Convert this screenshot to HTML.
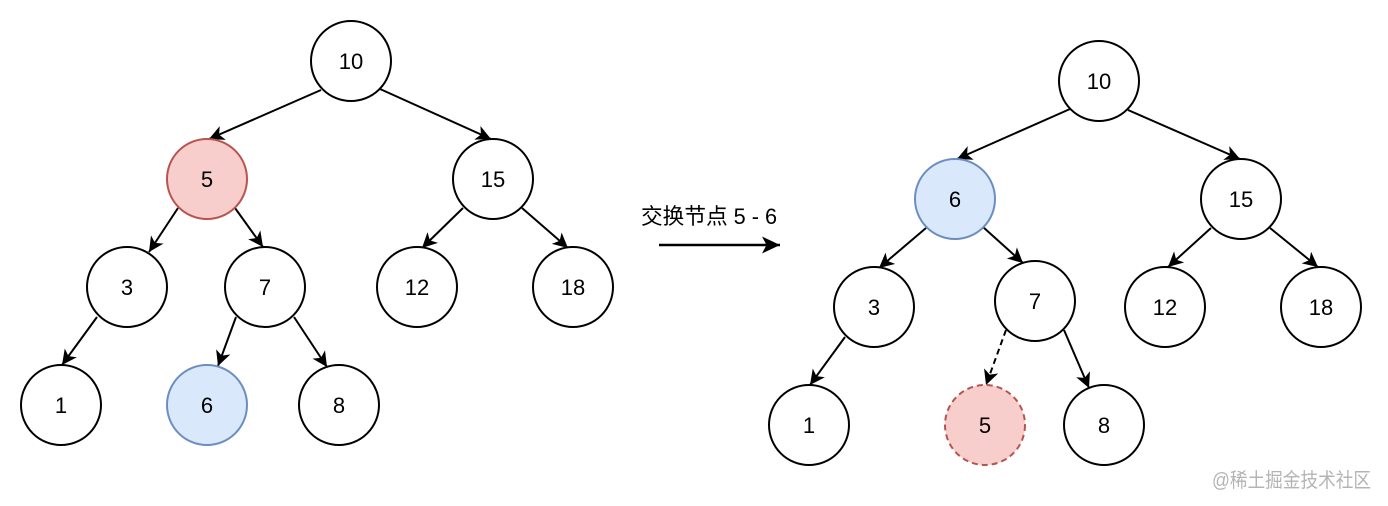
<!DOCTYPE html>
<html>
<head>
<meta charset="utf-8">
<style>
  html, body { margin:0; padding:0; background:#ffffff; }
  body { width:1388px; height:506px; overflow:hidden; }
  svg { display:block; }
  text { font-family: "Liberation Sans", "Noto Sans CJK SC", sans-serif; }
</style>
</head>
<body>
<svg width="1388" height="506" viewBox="0 0 1388 506" xmlns="http://www.w3.org/2000/svg">
  <defs>
    <marker id="ah" markerUnits="userSpaceOnUse" markerWidth="16" markerHeight="16" refX="15" refY="7.5" orient="auto">
      <path d="M0,0 L15,7.5 L0,15 L4,7.5 Z" fill="#000"/>
    </marker>
    <marker id="ahBig" markerUnits="userSpaceOnUse" markerWidth="20" markerHeight="20" refX="18" refY="8.5" orient="auto">
      <path d="M0,0 L18,8.5 L0,17 L4.5,8.5 Z" fill="#000"/>
    </marker>
  </defs>
  <rect width="1388" height="506" fill="#fff"/>

  <!-- Left tree edges -->
  <g stroke="#000" stroke-width="2" fill="none">
    <line x1="321" y1="90" x2="209" y2="139" marker-end="url(#ah)"/>
    <line x1="380" y1="89" x2="491" y2="139" marker-end="url(#ah)"/>
    <line x1="178" y1="208" x2="149" y2="252" marker-end="url(#ah)"/>
    <line x1="235" y1="208" x2="263" y2="247" marker-end="url(#ah)"/>
    <line x1="463" y1="208" x2="422" y2="248" marker-end="url(#ah)"/>
    <line x1="522" y1="208" x2="568" y2="248" marker-end="url(#ah)"/>
    <line x1="97" y1="317" x2="62" y2="365" marker-end="url(#ah)"/>
    <line x1="236" y1="317" x2="218" y2="366" marker-end="url(#ah)"/>
    <line x1="294" y1="317" x2="327" y2="367" marker-end="url(#ah)"/>
  </g>

  <!-- Left tree nodes -->
  <g stroke-width="2">
    <circle cx="351" cy="61" r="40" fill="#fff" stroke="#000"/>
    <circle cx="207" cy="179" r="40" fill="#f8cecc" stroke="#b85450"/>
    <circle cx="493" cy="179" r="40" fill="#fff" stroke="#000"/>
    <circle cx="127" cy="287" r="40" fill="#fff" stroke="#000"/>
    <circle cx="265" cy="287" r="40" fill="#fff" stroke="#000"/>
    <circle cx="417" cy="287" r="40" fill="#fff" stroke="#000"/>
    <circle cx="573" cy="287" r="40" fill="#fff" stroke="#000"/>
    <circle cx="61" cy="405" r="40" fill="#fff" stroke="#000"/>
    <circle cx="207" cy="405" r="40" fill="#dae8fc" stroke="#6c8ebf"/>
    <circle cx="339" cy="405" r="40" fill="#fff" stroke="#000"/>
  </g>
  <g font-size="22" fill="#000" text-anchor="middle">
    <text x="351" y="69">10</text>
    <text x="207" y="187">5</text>
    <text x="493" y="187">15</text>
    <text x="127" y="295">3</text>
    <text x="265" y="295">7</text>
    <text x="417" y="295">12</text>
    <text x="573" y="295">18</text>
    <text x="61" y="413">1</text>
    <text x="207" y="413">6</text>
    <text x="339" y="413">8</text>
  </g>

  <!-- Middle label + arrow -->
  <text x="641" y="224" font-size="22" fill="#000" textLength="136" lengthAdjust="spacingAndGlyphs">交换节点 5 - 6</text>
  <line x1="659" y1="245" x2="780" y2="245" stroke="#000" stroke-width="2.5" marker-end="url(#ahBig)"/>

  <!-- Right tree edges -->
  <g stroke="#000" stroke-width="2" fill="none">
    <line x1="1070" y1="109" x2="957" y2="159" marker-end="url(#ah)"/>
    <line x1="1128" y1="110" x2="1240" y2="159" marker-end="url(#ah)"/>
    <line x1="926" y1="228" x2="879" y2="268" marker-end="url(#ah)"/>
    <line x1="983" y1="227" x2="1023" y2="263" marker-end="url(#ah)"/>
    <line x1="1211" y1="228" x2="1168" y2="267" marker-end="url(#ah)"/>
    <line x1="1270" y1="228" x2="1318" y2="267" marker-end="url(#ah)"/>
    <line x1="845" y1="337" x2="810" y2="385" marker-end="url(#ah)"/>
    <line x1="1006" y1="330" x2="986" y2="385" stroke-dasharray="6 4" marker-end="url(#ah)"/>
    <line x1="1064" y1="330" x2="1089" y2="388" marker-end="url(#ah)"/>
  </g>

  <!-- Right tree nodes -->
  <g stroke-width="2">
    <circle cx="1099" cy="81" r="40" fill="#fff" stroke="#000"/>
    <circle cx="955" cy="199" r="40" fill="#dae8fc" stroke="#6c8ebf"/>
    <circle cx="1241" cy="199" r="40" fill="#fff" stroke="#000"/>
    <circle cx="874" cy="307" r="40" fill="#fff" stroke="#000"/>
    <circle cx="1035" cy="301" r="40" fill="#fff" stroke="#000"/>
    <circle cx="1165" cy="307" r="40" fill="#fff" stroke="#000"/>
    <circle cx="1321" cy="307" r="40" fill="#fff" stroke="#000"/>
    <circle cx="809" cy="425" r="40" fill="#fff" stroke="#000"/>
    <circle cx="985" cy="425" r="40" fill="#f8cecc" stroke="#b85450" stroke-dasharray="6 4"/>
    <circle cx="1104" cy="425" r="40" fill="#fff" stroke="#000"/>
  </g>
  <g font-size="22" fill="#000" text-anchor="middle">
    <text x="1099" y="89">10</text>
    <text x="955" y="207">6</text>
    <text x="1241" y="207">15</text>
    <text x="874" y="315">3</text>
    <text x="1035" y="309">7</text>
    <text x="1165" y="315">12</text>
    <text x="1321" y="315">18</text>
    <text x="809" y="433">1</text>
    <text x="985" y="433">5</text>
    <text x="1104" y="433">8</text>
  </g>

  <!-- Watermark -->
  <text x="1212" y="487" font-size="20" fill="#b4b4b4" textLength="159" lengthAdjust="spacingAndGlyphs">@稀土掘金技术社区</text>
</svg>
</body>
</html>
